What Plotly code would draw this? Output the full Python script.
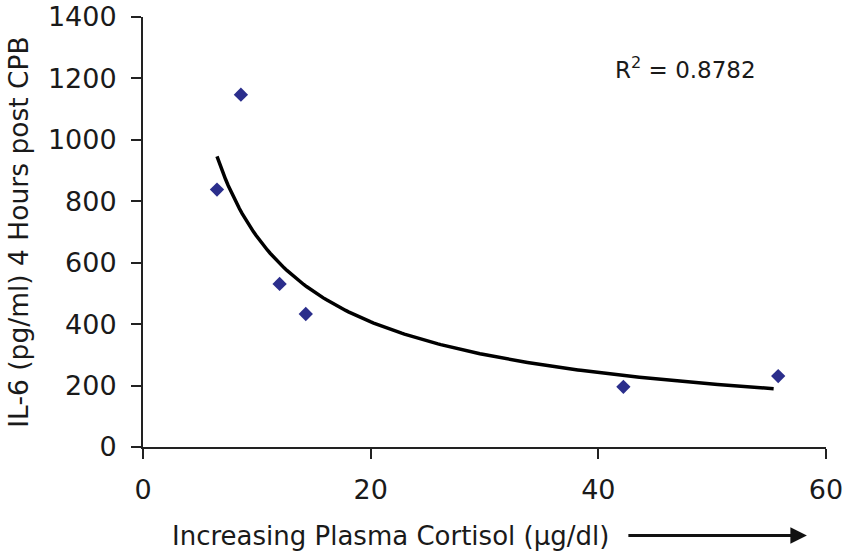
import numpy as np
import plotly.graph_objects as go

cortisol = [6.5, 8.6, 12.0, 14.3, 42.2, 55.8]
il6 = [838, 1147, 531, 433, 196, 231]
x_ticks = [0, 20, 40, 60]
y_ticks = [0, 200, 400, 600, 800, 1000, 1200, 1400]
r2_text = "R<sup>2</sup> = 0.8782"
x_title = "Increasing Plasma Cortisol (\u03bcg/dl)"
y_title = "IL-6 (pg/ml) 4 Hours post CPB"

# power trendline y = a * x^b (least squares in log-log space, as the spreadsheet does)
lx, ly = np.log(cortisol), np.log(il6)
b, ln_a = np.polyfit(lx, ly, 1)
xf = np.linspace(min(cortisol), max(cortisol) - 0.4, 200)
yf = np.exp(ln_a) * xf ** b

FONT = "DejaVu Sans"
AX = "#222222"
TXT = "#1a1a1a"

fig = go.Figure()
fig.add_trace(go.Scatter(x=xf, y=yf, mode="lines",
                         line=dict(color="black", width=3.5), hoverinfo="skip"))
fig.add_trace(go.Scatter(x=cortisol, y=il6, mode="markers",
                         marker=dict(symbol="diamond", size=11, color="#2b2e8c")))

fig.update_layout(
    width=846, height=553,
    margin=dict(l=143, r=20, t=17, b=106),
    paper_bgcolor="white", plot_bgcolor="white",
    showlegend=False,
    font=dict(family=FONT, color=TXT),
    xaxis=dict(range=[0, 60], tickvals=x_ticks, ticks="outside", ticklen=10,
               tickwidth=2, tickcolor=AX, showline=True, linecolor=AX, linewidth=2,
               showgrid=False, zeroline=False, tickfont=dict(size=27),
               ticklabelstandoff=8, automargin=False, ticklabeloverflow="allow"),
    yaxis=dict(range=[0, 1400], tickvals=y_ticks, ticks="outside", ticklen=10,
               tickwidth=2, tickcolor=AX, showline=True, linecolor=AX, linewidth=2,
               showgrid=False, zeroline=False, tickfont=dict(size=27),
               ticklabelstandoff=9, automargin=False, ticklabeloverflow="allow",
               title=dict(text=y_title, font=dict(size=26.5), standoff=12)),
)

fig.add_annotation(xref="paper", yref="paper", x=0.363, y=-0.207, xanchor="center",
                   yanchor="middle", text=x_title, showarrow=False,
                   font=dict(size=26, family=FONT, color=TXT))

fig.add_annotation(xref="paper", yref="paper", x=0.795, y=0.881, xanchor="center",
                   yanchor="middle", text=r2_text, showarrow=False,
                   font=dict(size=23, family=FONT, color=TXT))

# arrow after the x-axis title
fig.add_annotation(xref="paper", yref="paper", x=0.972, y=-0.206, ax=-180, ay=0,
                   axref="pixel", ayref="pixel", text="", showarrow=True,
                   arrowhead=2, arrowsize=1.1, arrowwidth=3, arrowcolor="#111111")

fig.write_html("out.html", config={"displayModeBar": False},
               post_script="document.body.style.margin='0px';document.body.style.overflow='hidden';")
